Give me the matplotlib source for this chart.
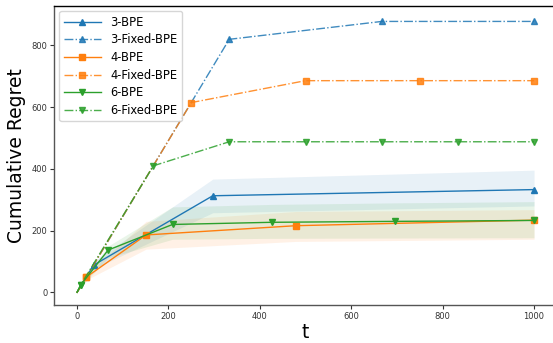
import matplotlib
matplotlib.use("Agg")
import matplotlib.pyplot as plt
import numpy as np

# 3-BPE
x3 = [0, 36, 297, 1000]
y3 = [0, 88, 313, 333]
lo3 = [0, 76, 258, 280]
hi3 = [0, 100, 367, 396]
# 3-Fixed-BPE
x3f = [0, 36, 333, 667, 1000]
y3f = [0, 88, 820, 878, 878]
# 4-BPE
x4 = [0, 20, 151, 479, 1000]
y4 = [0, 49, 186, 216, 234]
lo4 = [0, 40, 140, 165, 172]
hi4 = [0, 58, 230, 262, 268]
# 4-Fixed-BPE
x4f = [0, 20, 250, 500, 750, 1000]
y4f = [0, 49, 615, 686, 686, 686]
# 6-BPE
x6 = [0, 8, 68, 209, 426, 695, 1000]
y6 = [0, 24, 137, 220, 227, 230, 233]
lo6 = [0, 18, 112, 172, 175, 176, 177]
hi6 = [0, 30, 150, 277, 285, 290, 294]
# 6-Fixed-BPE
x6f = [0, 8, 167, 333, 500, 667, 833, 1000]
y6f = [0, 24, 410, 488, 488, 488, 488, 488]

C_BLUE, C_ORANGE, C_GREEN = "#1f77b4", "#ff7f0e", "#2ca02c"

fig = plt.figure(figsize=(5.53, 3.43), dpi=100)
W, H = 553, 343
left_px, right_px, top_px, bot_px = 54.2, 556.9, 6, 305.3
ax = fig.add_axes([left_px / W, 1 - bot_px / H, (right_px - left_px) / W, (bot_px - top_px) / H])

ms = 5
lw = 1.0
ax.plot(x3, y3, color=C_BLUE, ls='-', marker='^', ms=ms, lw=lw, markevery=slice(1, None), label='3-BPE')
ax.fill_between(x3, lo3, hi3, color=C_BLUE, alpha=0.1, lw=0)
ax.plot(x3f, y3f, color=C_BLUE, ls='-.', marker='^', ms=ms, lw=lw, alpha=0.85, markevery=slice(1, None), label='3-Fixed-BPE')
ax.plot(x4, y4, color=C_ORANGE, ls='-', marker='s', ms=ms, lw=lw, markevery=slice(1, None), label='4-BPE')
ax.fill_between(x4, lo4, hi4, color=C_ORANGE, alpha=0.1, lw=0)
ax.plot(x4f, y4f, color=C_ORANGE, ls='-.', marker='s', ms=ms, lw=lw, alpha=0.85, markevery=slice(1, None), label='4-Fixed-BPE')
ax.plot(x6, y6, color=C_GREEN, ls='-', marker='v', ms=ms, lw=lw, markevery=slice(1, None), label='6-BPE')
ax.fill_between(x6, lo6, hi6, color=C_GREEN, alpha=0.1, lw=0)
ax.plot(x6f, y6f, color=C_GREEN, ls='-.', marker='v', ms=ms, lw=lw, alpha=0.85, markevery=slice(1, None), label='6-Fixed-BPE')

ax.set_xlim(-50, 1050)
ax.set_ylim(-42, 928)
ax.set_xticks([0, 200, 400, 600, 800, 1000])
ax.set_yticks([0, 200, 400, 600, 800])
ax.tick_params(labelsize=6, length=3, width=0.8, colors='#333333', pad=2)
ax.set_xlabel('t', fontsize=13.5, labelpad=1)
ax.set_ylabel('Cumulative Regret', fontsize=13.5, labelpad=4)

for s in ('left', 'bottom'):
    ax.spines[s].set_color('#555555')
    ax.spines[s].set_linewidth(1.0)
ax.spines['top'].set_color('black')
ax.spines['top'].set_linewidth(1.0)
ax.spines['right'].set_visible(False)

ax.legend(loc='upper left', fontsize=8.3, handlelength=3.2, labelspacing=0.4,
          borderaxespad=0.45, framealpha=0.8, edgecolor='#cccccc')

fig.savefig('out.png', dpi=100)
